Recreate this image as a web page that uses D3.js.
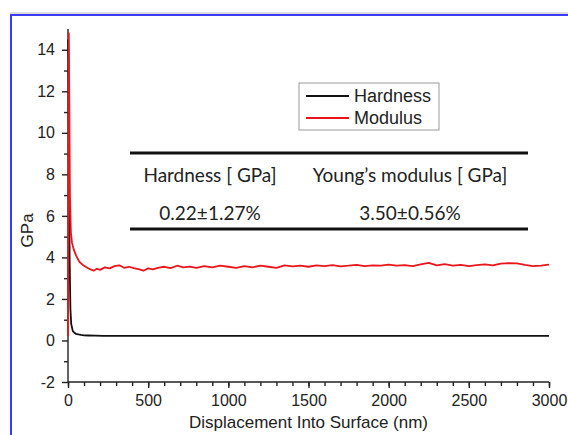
<!DOCTYPE html>
<html>
<head>
<meta charset="utf-8">
<script src="https://cdn.jsdelivr.net/npm/d3@7"></script>
<style>
  body { margin: 0; background: #fff; }
  svg { display: block; }
</style>
</head>
<body>
<div id="canvas"></div>
<script>
// displacement (nm) / GPa
const modX = [0, 3, 5, 8, 12, 18, 25, 35, 50, 70, 90, 110, 140, 160, 180, 200, 230, 260, 290, 320,
  350, 380, 410, 440, 470, 500, 530, 560, 600, 640, 680, 720, 760, 800, 850, 900, 950, 1000,
  1050, 1100, 1150, 1200, 1250, 1300, 1350, 1400, 1450, 1500, 1550, 1600, 1650, 1700, 1750,
  1800, 1850, 1900, 1950, 2000, 2050, 2100, 2150, 2200, 2250, 2300, 2350, 2400, 2450, 2500,
  2550, 2600, 2650, 2700, 2750, 2800, 2850, 2900, 2950, 3000];
const modY = [0.2, 8, 14.8, 12, 7, 5.2, 4.7, 4.4, 4.1, 3.8, 3.65, 3.55, 3.42, 3.36, 3.45, 3.4,
  3.52, 3.47, 3.58, 3.62, 3.5, 3.55, 3.48, 3.44, 3.36, 3.47, 3.42, 3.5, 3.55, 3.48, 3.6, 3.52,
  3.56, 3.5, 3.58, 3.52, 3.6, 3.55, 3.5, 3.58, 3.52, 3.6, 3.55, 3.5, 3.62, 3.57, 3.6, 3.55,
  3.62, 3.58, 3.63, 3.57, 3.6, 3.64, 3.58, 3.62, 3.6, 3.65, 3.6, 3.63, 3.58, 3.66, 3.74, 3.62,
  3.68, 3.6, 3.64, 3.58, 3.63, 3.66, 3.62, 3.7, 3.72, 3.71, 3.64, 3.58, 3.6, 3.65];

const hardX = [0, 3, 6, 10, 15, 20, 30, 40, 50, 65, 80, 100, 130, 170, 220, 300, 600, 1000, 1500, 2000, 2500, 3000];
const hardY = [14.5, 13.5, 9, 4, 1.5, 0.8, 0.45, 0.37, 0.32, 0.29, 0.27, 0.25, 0.24, 0.23, 0.22, 0.22, 0.22, 0.22, 0.22, 0.22, 0.22, 0.22];

const xTicks = [0, 500, 1000, 1500, 2000, 2500, 3000];
const yTicks = [-2, 0, 2, 4, 6, 8, 10, 12, 14];

const tableHead = ["Hardness [ GPa]", "Young\u2019s modulus [ GPa]"];
const tableVals = ["0.22\u00b11.27%", "3.50\u00b10.56%"];

const width = 568;
const height = 435;
const margin = { left: 68, right: 19, top: 29, bottom: 53 };

const svg = d3
  .select("#canvas")
  .append("svg")
  .attr("width", width)
  .attr("height", height);

// blue frame
svg
  .append("line")
  .attr("x1", 10).attr("x2", width).attr("y1", 13).attr("y2", 13)
  .attr("stroke", "#bbb").attr("stroke-width", 1);
svg
  .append("path")
  .attr("d", `M11,${height}V15H${width}`)
  .attr("fill", "none")
  .attr("stroke", "#3a3aff")
  .attr("stroke-width", 2);

const xScale = d3.scaleLinear([0, 3000], [margin.left, width - margin.right]);
const yScale = d3.scaleLinear([-2, 15], [height - margin.bottom, margin.top]);

const font = "Liberation Sans, Arial, sans-serif";

// x axis
const xAxis = d3.axisBottom(xScale).tickValues(xTicks).tickFormat((d) => String(d)).tickSize(6).tickPadding(7);
const xMinor = d3.axisBottom(xScale).tickValues(d3.range(0, 3001, 100)).tickSize(4).tickFormat("");
svg.append("g")
  .attr("transform", `translate(0,${height - margin.bottom})`)
  .call(xMinor)
  .call((g) => g.select(".domain").remove());
svg.append("g")
  .attr("transform", `translate(0,${height - margin.bottom})`)
  .call(xAxis)
  .call((g) => g.select(".domain").attr("d", `M${margin.left},0H${width - margin.right}`))
  .call((g) => g.selectAll("text").style("font-size", "16px").style("font-family", font).attr("fill", "#222"));

// y axis
const yAxis = d3.axisLeft(yScale).tickValues(yTicks).tickFormat((d) => String(d)).tickSize(6).tickPadding(7);
const yMinor = d3.axisLeft(yScale).tickValues(d3.range(-1, 15, 2)).tickSize(4).tickFormat("");
svg.append("g")
  .attr("transform", `translate(${margin.left},0)`)
  .call(yMinor)
  .call((g) => g.select(".domain").remove());
svg.append("g")
  .attr("transform", `translate(${margin.left},0)`)
  .call(yAxis)
  .call((g) => g.select(".domain").attr("d", `M0,${yScale(-2)}V${yScale(15)}`))
  .call((g) => g.selectAll("text").style("font-size", "16px").style("font-family", font).attr("fill", "#222"));

svg.selectAll(".tick line, .domain").attr("stroke", "#222").attr("stroke-width", 1.4);

// axis titles
svg.append("text")
  .attr("x", (margin.left + width - margin.right) / 2)
  .attr("y", 428)
  .attr("text-anchor", "middle")
  .attr("font-family", font)
  .attr("font-size", 17)
  .attr("fill", "#222")
  .text("Displacement Into Surface (nm)");
svg.append("text")
  .attr("transform", `translate(33,${yScale(5.3)}) rotate(-90)`)
  .attr("text-anchor", "middle")
  .attr("font-family", font)
  .attr("font-size", 17)
  .attr("fill", "#222")
  .text("GPa");

// lines
const line = d3.line().x((d) => xScale(d[0])).y((d) => yScale(d[1]));
svg.append("path")
  .attr("fill", "none")
  .attr("stroke", "#111")
  .attr("stroke-width", 1.8)
  .attr("d", line(d3.zip(hardX, hardY)));
svg.append("path")
  .attr("fill", "none")
  .attr("stroke", "#e8161b")
  .attr("stroke-width", 1.8)
  .attr("stroke-linejoin", "round")
  .attr("d", line(d3.zip(modX, modY)));

// legend
const lg = svg.append("g").attr("transform", "translate(299,83)");
lg.append("rect")
  .attr("width", 140).attr("height", 47)
  .attr("fill", "#fff").attr("stroke", "#999").attr("stroke-width", 1);
[["Hardness", "#111"], ["Modulus", "#e8161b"]].forEach((d, i) => {
  lg.append("line")
    .attr("x1", 7).attr("x2", 50)
    .attr("y1", 13 + i * 22).attr("y2", 13 + i * 22)
    .attr("stroke", d[1]).attr("stroke-width", 1.8);
  lg.append("text")
    .attr("x", 55).attr("y", 19 + i * 22)
    .attr("font-family", font).attr("font-size", 18).attr("fill", "#222")
    .text(d[0]);
});

// table
const tbl = svg.append("g");
[153, 229].forEach((y) => {
  tbl.append("line")
    .attr("x1", 130).attr("x2", 528).attr("y1", y).attr("y2", y)
    .attr("stroke", "#111").attr("stroke-width", 3);
});
const colX = [210, 410];
tableHead.forEach((t, i) => {
  tbl.append("text")
    .attr("x", colX[i]).attr("y", 182)
    .attr("text-anchor", "middle")
    .attr("font-family", "Lato, sans-serif").attr("font-size", 19).attr("fill", "#222")
    .text(t);
  tbl.append("text")
    .attr("x", colX[i]).attr("y", 220)
    .attr("text-anchor", "middle")
    .attr("font-family", "Lato, sans-serif").attr("font-size", 19).attr("fill", "#222")
    .text(tableVals[i]);
});
</script>
</body>
</html>
